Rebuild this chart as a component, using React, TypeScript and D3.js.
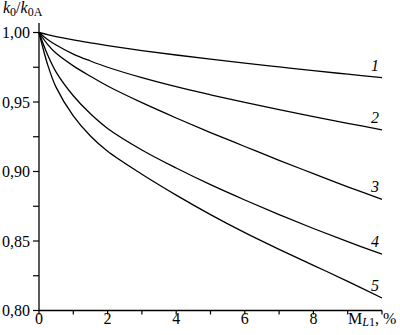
import React from "react"
import * as d3 from "d3"

// M_L1, % sample points
const xs = [0, 0.25, 0.5, 1, 1.5, 2, 3, 4, 5, 6, 7, 8, 9, 10]
const curve1 = [1, 0.9985, 0.9971, 0.9947, 0.9926, 0.9906, 0.987, 0.9838, 0.9808, 0.9779, 0.9752, 0.9725, 0.97, 0.9675]
const curve2 = [1, 0.995, 0.991, 0.9845, 0.9795, 0.975, 0.9675, 0.961, 0.9552, 0.9497, 0.9445, 0.9395, 0.9347, 0.93]
const curve3 = [1, 0.9915, 0.985, 0.976, 0.9685, 0.9615, 0.9495, 0.9385, 0.928, 0.918, 0.908, 0.8985, 0.889, 0.88]
const curve4 = [1, 0.984, 0.9715, 0.9545, 0.9415, 0.931, 0.9155, 0.9025, 0.8905, 0.8795, 0.869, 0.859, 0.8495, 0.8405]
const curve5 = [1, 0.977, 0.9605, 0.94, 0.9255, 0.9145, 0.898, 0.883, 0.869, 0.856, 0.844, 0.8325, 0.821, 0.809]
const curves = [curve1, curve2, curve3, curve4, curve5]
const curveLabels = ["1", "2", "3", "4", "5"]

const xTicks = [0, 1, 2, 3, 4, 5, 6, 7, 8, 9, 10]
const xTickLabels = ["0", "", "2", "", "4", "", "6", "", "8", "", ""]
const yTicks = [0.8, 0.825, 0.85, 0.875, 0.9, 0.925, 0.95, 0.975, 1.0]
const yTickLabels = ["0,80", "", "0,85", "", "0,90", "", "0,95", "", "1,00"]

const font = "'Liberation Serif', 'Times New Roman', Times, serif"

export default function App() {
    const x = d3.scaleLinear().domain([0, 10]).range([39, 382])
    const y = d3.scaleLinear().domain([0.8, 1.0]).range([310.5, 32.5])

    const line = d3
        .line<number>()
        .x((d, i) => x(xs[i]))
        .y(d => y(d))
        .curve(d3.curveCatmullRom.alpha(0.5))

    const txt = { fontFamily: font }

    return (
        <svg
            width={400}
            height={335}
            style={{ position: "absolute", left: 0, top: 0, background: "#fff" }}
        >
            {/* axes */}
            <line x1={x(0)} x2={x(0)} y1={23} y2={y(0.8)} stroke="#000" strokeWidth={1.3} />
            <line x1={x(0)} x2={x(10)} y1={y(0.8)} y2={y(0.8)} stroke="#000" strokeWidth={1.3} />

            {yTicks.map((t, i) => (
                <g key={"y" + i}>
                    <line x1={x(0) - 6} x2={x(0)} y1={y(t)} y2={y(t)} stroke="#000" strokeWidth={1.2} />
                    {yTickLabels[i] && (
                        <text x={30} y={y(t)} dy="0.36em" textAnchor="end" fontSize={16} style={txt}>
                            {yTickLabels[i]}
                        </text>
                    )}
                </g>
            ))}

            {xTicks.map((t, i) => (
                <g key={"x" + i}>
                    <line x1={x(t)} x2={x(t)} y1={y(0.8)} y2={y(0.8) + 4} stroke="#000" strokeWidth={1.2} />
                    {xTickLabels[i] && (
                        <text x={x(t)} y={324} textAnchor="middle" fontSize={16} style={txt}>
                            {xTickLabels[i]}
                        </text>
                    )}
                </g>
            ))}

            {/* x axis title */}
            <text x={348} y={324} fontSize={16} style={txt}>
                M
                <tspan fontStyle="italic" fontSize={12} dy={2}>L</tspan>
                <tspan fontSize={12}>1</tspan>
                <tspan dy={-2}>, %</tspan>
            </text>

            {/* y axis title */}
            <text x={3} y={12.5} fontSize={16} style={txt}>
                <tspan fontStyle="italic">k</tspan>
                <tspan fontSize={12} dy={3}>0</tspan>
                <tspan dy={-3}>/</tspan>
                <tspan fontStyle="italic">k</tspan>
                <tspan fontSize={12} dy={3}>0A</tspan>
            </text>

            {curves.map((c, i) => (
                <path key={"c" + i} d={line(c) || ""} fill="none" stroke="#000" strokeWidth={1.3} />
            ))}

            {curves.map((c, i) => (
                <text
                    key={"l" + i}
                    x={375}
                    y={y(c[c.length - 1]) - 7}
                    textAnchor="middle"
                    fontSize={16}
                    fontStyle="italic"
                    style={txt}
                >
                    {curveLabels[i]}
                </text>
            ))}
        </svg>
    )
}
